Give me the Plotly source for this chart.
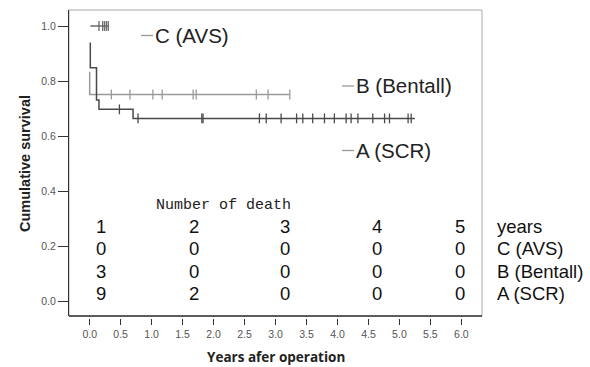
import plotly.graph_objects as go

# Kaplan-Meier step curves (years after operation, cumulative survival)
a_time = [0.01, 0.01, 0.11, 0.15, 0.70, 5.25]
a_surv = [0.94, 0.848, 0.731, 0.697, 0.664, 0.664]
b_time = [0.0, 0.0, 3.23]
b_surv = [0.834, 0.751, 0.751]
c_time = [0.01, 0.31]
c_surv = [1.0, 1.0]

# Censored observations
a_cens_time = [0.48, 0.78, 1.81, 1.83, 2.74, 2.85, 3.09, 3.34, 3.44, 3.60, 3.79,
               3.95, 4.14, 4.22, 4.33, 4.57, 4.76, 4.84, 5.14, 5.19]
a_cens_surv = [0.697, 0.664] + [0.664] * 18
b_cens_time = [0.35, 0.65, 1.02, 1.17, 1.67, 1.72, 2.69, 2.88, 3.23]
b_cens_surv = [0.751] * 9
c_cens_time = [0.15, 0.21, 0.24, 0.27, 0.30]
c_cens_surv = [1.0] * 5

# Deaths per year table
years = [1, 2, 3, 4, 5]
deaths_c = [0, 0, 0, 0, 0]
deaths_b = [3, 0, 0, 0, 0]
deaths_a = [9, 2, 0, 0, 0]
group_names = ["C (AVS)", "B (Bentall)", "A (SCR)"]

x_ticks = [0.0, 0.5, 1.0, 1.5, 2.0, 2.5, 3.0, 3.5, 4.0, 4.5, 5.0, 5.5, 6.0]
y_ticks = [0.0, 0.2, 0.4, 0.6, 0.8, 1.0]

col_a = "#4a4a4a"
col_b = "#9a9a9a"
col_c = "#6a6a6a"

W, H = 590, 367
ML, MR, MT, MB = 69, 108, 10, 49
PW, PH = W - ML - MR, H - MT - MB


def px(x):
    return (x - ML) / PW


def py(y):
    return (H - MB - y) / PH


fig = go.Figure()
for t, s, c in [(b_time, b_surv, col_b), (a_time, a_surv, col_a), (c_time, c_surv, col_c)]:
    fig.add_trace(go.Scatter(x=t, y=s, mode="lines", line=dict(color=c, width=1.5, shape="hv"),
                             showlegend=False, hoverinfo="skip"))
for t, s, c in [(b_cens_time, b_cens_surv, col_b), (a_cens_time, a_cens_surv, col_a),
                (c_cens_time, c_cens_surv, col_c)]:
    fig.add_trace(go.Scatter(x=t, y=s, mode="markers",
                             marker=dict(symbol="line-ns", size=7, line=dict(color=c, width=1.3)),
                             showlegend=False, hoverinfo="skip"))

ann = []
shapes = [
    dict(type="rect", xref="x domain", yref="y domain", x0=0, x1=1, y0=0, y1=1,
         line=dict(color="#aaaaaa", width=1), layer="below"),
    dict(type="line", xref="x domain", yref="y domain", x0=0, x1=1, y0=0, y1=0,
         line=dict(color="#333333", width=1.3)),
]

# Curve labels, each preceded by a short grey dash
for label, lx, ly in [("C (AVS)", 153, 35.5), ("B (Bentall)", 354, 86), ("A (SCR)", 354, 150.5)]:
    ann.append(dict(text=label, x=px(lx), y=py(ly), xref="paper", yref="paper",
                    xanchor="left", yanchor="middle", showarrow=False,
                    font=dict(family="Liberation Sans", size=20.5, color="#222222")))
    shapes.append(dict(type="line", xref="paper", yref="paper", x0=px(lx - 12), x1=px(lx),
                       y0=py(ly), y1=py(ly), line=dict(color="#999999", width=1.3)))

# Deaths table
ann.append(dict(text="Number of death", x=px(223.5), y=py(205), xref="paper", yref="paper",
                xanchor="center", yanchor="middle", showarrow=False,
                font=dict(family="Liberation Mono", size=15, color="#222222")))
col_x = [101, 194, 285, 377, 460]
row_y = [226, 248.5, 271, 293.5]
rows = [years, deaths_c, deaths_b, deaths_a]
for r, vals in enumerate(rows):
    for cx, v in zip(col_x, vals):
        ann.append(dict(text=str(v), x=px(cx), y=py(row_y[r]), xref="paper", yref="paper",
                        xanchor="center", yanchor="middle", showarrow=False,
                        font=dict(family="Liberation Sans", size=18.5, color="#111111")))
for r, lab in enumerate(["years"] + group_names):
    ann.append(dict(text=lab, x=px(495), y=py(row_y[r]), xref="paper", yref="paper",
                    xanchor="left", yanchor="middle", showarrow=False,
                    font=dict(family="Liberation Sans", size=18.5, color="#111111")))

# Axis titles
ann.append(dict(text="<b>Cumulative survival</b>", x=px(25), y=py(164), xref="paper", yref="paper",
                xanchor="center", yanchor="middle", textangle=-90, showarrow=False,
                font=dict(family="Liberation Sans", size=14.5, color="#222222")))
ann.append(dict(text="<b>Years afer operation</b>", x=px(276), y=py(357), xref="paper", yref="paper",
                xanchor="center", yanchor="middle", showarrow=False,
                font=dict(family="Open Sans", size=13.5, color="#222222")))

d = 2 / PH
fig.update_layout(
    width=W, height=H,
    margin=dict(l=ML, r=MR, t=MT, b=MB),
    paper_bgcolor="white", plot_bgcolor="white",
    annotations=ann,
    shapes=shapes,
    xaxis=dict(range=[-0.334, 6.333], tickvals=x_ticks, ticktext=[f"{v:.1f}" for v in x_ticks],
               showgrid=False, zeroline=False, showline=False, ticks="outside", ticklen=6,
               tickwidth=1, tickcolor="#333333", anchor="free", position=0,
               tickfont=dict(family="Liberation Sans", size=10.5, color="#555555")),
    yaxis=dict(range=[-0.0545, 1.0582], domain=[d, 1], tickvals=y_ticks,
               ticktext=[f"{v:.1f}" for v in y_ticks], showgrid=False, zeroline=False,
               showline=True, linecolor="#333333", linewidth=1, ticks="outside", ticklen=10,
               tickwidth=1, tickcolor="#333333",
               tickfont=dict(family="Liberation Sans", size=10.5, color="#555555")),
)

fig.write_html("out.html")
